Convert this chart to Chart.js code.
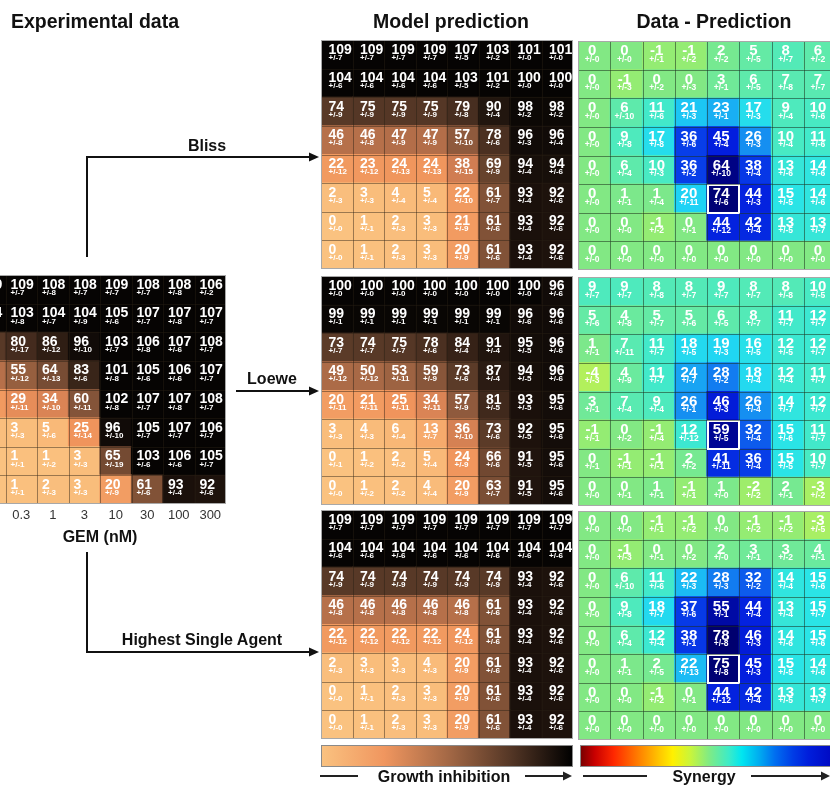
<!DOCTYPE html>
<html>
<head>
<meta charset="utf-8">
<script src="https://cdn.jsdelivr.net/npm/chart.js@4.4.0/dist/chart.umd.min.js"></script>
<style>
  html, body { margin: 0; padding: 0; background: #fff; }
  body { width: 830px; height: 786px; position: relative; overflow: hidden; }
  .panel { position: absolute; }
  #overlay { position: absolute; left: 0; top: 0; pointer-events: none; }
</style>
</head>
<body>
<div class="panel" style="left:-26px;top:275px"><canvas id="expChart" width="252" height="276"></canvas></div>
<div class="panel" style="left:321px;top:40px"><canvas id="blissChart" width="252" height="229"></canvas></div>
<div class="panel" style="left:321px;top:276px"><canvas id="loeweChart" width="252" height="229"></canvas></div>
<div class="panel" style="left:321px;top:510px"><canvas id="hsaChart" width="252" height="229"></canvas></div>
<div class="panel" style="left:578px;top:41px"><canvas id="blissDiffChart" width="258" height="229"></canvas></div>
<div class="panel" style="left:578px;top:277px"><canvas id="loeweDiffChart" width="258" height="229"></canvas></div>
<div class="panel" style="left:578px;top:511px"><canvas id="hsaDiffChart" width="258" height="229"></canvas></div>

<svg id="overlay" width="830" height="786" xmlns="http://www.w3.org/2000/svg" font-family="Liberation Sans, Arial, sans-serif" font-weight="bold">
  <defs>
    <linearGradient id="gGrowth" x1="0" x2="1" y1="0" y2="0">
      <stop offset="0" stop-color="rgb(250,194,128)"/>
      <stop offset="0.25" stop-color="rgb(240,150,95)"/>
      <stop offset="0.5" stop-color="rgb(165,105,70)"/>
      <stop offset="0.75" stop-color="rgb(85,55,38)"/>
      <stop offset="1" stop-color="rgb(0,0,0)"/>
    </linearGradient>
    <linearGradient id="gSyn" x1="0" x2="1" y1="0" y2="0">
      <stop offset="0" stop-color="rgb(120,0,0)"/>
      <stop offset="0.055" stop-color="rgb(200,0,0)"/>
      <stop offset="0.13" stop-color="rgb(255,40,0)"/>
      <stop offset="0.23" stop-color="rgb(255,130,0)"/>
      <stop offset="0.31" stop-color="rgb(255,200,0)"/>
      <stop offset="0.36" stop-color="rgb(255,240,0)"/>
      <stop offset="0.43" stop-color="rgb(200,245,60)"/>
      <stop offset="0.5" stop-color="rgb(130,235,130)"/>
      <stop offset="0.58" stop-color="rgb(60,235,200)"/>
      <stop offset="0.63" stop-color="rgb(0,230,240)"/>
      <stop offset="0.7" stop-color="rgb(0,170,240)"/>
      <stop offset="0.76" stop-color="rgb(0,110,240)"/>
      <stop offset="0.83" stop-color="rgb(0,60,230)"/>
      <stop offset="0.89" stop-color="rgb(0,30,220)"/>
      <stop offset="1" stop-color="rgb(0,5,190)"/>
    </linearGradient>
  </defs>

  <!-- titles -->
  <text x="11" y="28" font-size="19.5" fill="#111">Experimental data</text>
  <text x="451" y="28" font-size="19.5" fill="#111" text-anchor="middle">Model prediction</text>
  <text x="714" y="28" font-size="19.5" fill="#111" text-anchor="middle">Data - Prediction</text>

  <!-- model arrows -->
  <g stroke="#111" stroke-width="2" fill="none">
    <polyline points="87,257 87,157 310,157"/>
    <line x1="236" y1="391" x2="310" y2="391"/>
    <polyline points="87,552 87,652 310,652"/>
  </g>
  <g fill="#111">
    <polygon points="319,157 309,152.5 309,161.5"/>
    <polygon points="319,391 309,386.5 309,395.5"/>
    <polygon points="319,652 309,647.5 309,656.5"/>
  </g>
  <text x="207" y="151" font-size="16" fill="#111" text-anchor="middle">Bliss</text>
  <text x="272" y="384" font-size="16" fill="#111" text-anchor="middle">Loewe</text>
  <text x="202" y="645" font-size="16" fill="#111" text-anchor="middle">Highest Single Agent</text>

  <!-- colour bars -->
  <rect x="321.5" y="745.5" width="251" height="21" fill="url(#gGrowth)" stroke="#8a8a8a" stroke-width="1"/>
  <rect x="580.5" y="745.5" width="256" height="21" fill="url(#gSyn)" stroke="#8a8a8a" stroke-width="1"/>
  <g stroke="#222" stroke-width="2">
    <line x1="320" y1="776" x2="358" y2="776"/>
    <line x1="525" y1="776" x2="564" y2="776"/>
    <line x1="583" y1="776" x2="647" y2="776"/>
    <line x1="751" y1="776" x2="822" y2="776"/>
  </g>
  <g fill="#222">
    <polygon points="572,776 563,771.5 563,780.5"/>
    <polygon points="830,776 821,771.5 821,780.5"/>
  </g>
  <text x="444" y="782" font-size="16" fill="#111" text-anchor="middle">Growth inhibition</text>
  <text x="704" y="782" font-size="16" fill="#111" text-anchor="middle">Synergy</text>
</svg>

<script>
// GEM concentrations (nM), one per column
const gemLabels = ['0', '0.3', '1', '3', '10', '30', '100', '300'];

// rows listed top to bottom
const expVals = [
  [109, 109, 108, 108, 109, 108, 108, 106],
  [104, 103, 104, 104, 105, 107, 107, 107],
  [74, 80, 86, 96, 103, 106, 107, 108],
  [46, 55, 64, 83, 101, 105, 106, 107],
  [22, 29, 34, 60, 102, 107, 107, 108],
  [2, 3, 5, 25, 96, 105, 107, 106],
  [0, 1, 1, 3, 65, 103, 106, 105],
  [0, 1, 2, 3, 20, 61, 93, 92]
];
const expErrs = [
  [7, 7, 8, 7, 7, 7, 8, 2],
  [6, 8, 7, 9, 6, 7, 8, 7],
  [9, 17, 12, 10, 7, 8, 6, 7],
  [8, 12, 13, 6, 8, 6, 6, 7],
  [12, 11, 10, 11, 8, 7, 8, 7],
  [3, 3, 6, 14, 10, 7, 7, 7],
  [0, 1, 2, 3, 19, 6, 6, 7],
  [0, 1, 3, 3, 9, 6, 4, 6]
];

const blissVals = [
  [109, 109, 109, 109, 107, 103, 101, 101],
  [104, 104, 104, 104, 103, 101, 100, 100],
  [74, 75, 75, 75, 79, 90, 98, 98],
  [46, 46, 47, 47, 57, 78, 96, 96],
  [22, 23, 24, 24, 38, 69, 94, 94],
  [2, 3, 4, 5, 22, 61, 93, 92],
  [0, 1, 2, 3, 21, 61, 93, 92],
  [0, 1, 2, 3, 20, 61, 93, 92]
];
const blissErrs = [
  [7, 7, 7, 7, 5, 2, 0, 0],
  [6, 6, 6, 6, 5, 2, 0, 0],
  [9, 9, 9, 9, 8, 4, 2, 2],
  [8, 8, 9, 9, 10, 6, 3, 4],
  [12, 12, 13, 13, 15, 9, 4, 6],
  [3, 3, 4, 4, 10, 7, 4, 6],
  [0, 1, 3, 3, 9, 6, 4, 6],
  [0, 1, 3, 3, 9, 6, 4, 6]
];

const loeweVals = [
  [100, 100, 100, 100, 100, 100, 100, 96],
  [99, 99, 99, 99, 99, 99, 96, 96],
  [73, 74, 75, 78, 84, 91, 95, 96],
  [49, 50, 53, 59, 73, 87, 94, 96],
  [20, 21, 25, 34, 57, 81, 93, 95],
  [3, 4, 6, 13, 36, 73, 92, 95],
  [0, 1, 2, 5, 24, 66, 91, 95],
  [0, 1, 2, 4, 20, 63, 91, 95]
];
const loeweErrs = [
  [0, 0, 0, 0, 0, 0, 0, 6],
  [1, 1, 1, 1, 1, 1, 6, 6],
  [7, 7, 7, 6, 4, 4, 5, 6],
  [12, 12, 11, 9, 6, 4, 5, 6],
  [11, 11, 11, 11, 9, 5, 5, 6],
  [3, 3, 4, 7, 10, 6, 5, 6],
  [1, 2, 2, 4, 9, 6, 5, 6],
  [0, 2, 2, 4, 9, 7, 5, 6]
];

const hsaVals = [
  [109, 109, 109, 109, 109, 109, 109, 109],
  [104, 104, 104, 104, 104, 104, 104, 104],
  [74, 74, 74, 74, 74, 74, 93, 92],
  [46, 46, 46, 46, 46, 61, 93, 92],
  [22, 22, 22, 22, 24, 61, 93, 92],
  [2, 3, 3, 4, 20, 61, 93, 92],
  [0, 1, 2, 3, 20, 61, 93, 92],
  [0, 1, 2, 3, 20, 61, 93, 92]
];
const hsaErrs = [
  [7, 7, 7, 7, 7, 7, 7, 7],
  [6, 6, 6, 6, 6, 6, 6, 6],
  [9, 9, 9, 9, 9, 9, 4, 6],
  [8, 8, 8, 8, 8, 6, 4, 6],
  [12, 12, 12, 12, 12, 6, 4, 6],
  [3, 3, 3, 3, 9, 6, 4, 6],
  [0, 1, 3, 3, 9, 6, 4, 6],
  [0, 1, 3, 3, 9, 6, 4, 6]
];

const blissDiffVals = [
  [0, 0, -1, -1, 2, 5, 8, 6],
  [0, -1, 0, 0, 3, 6, 7, 7],
  [0, 6, 11, 21, 23, 17, 9, 10],
  [0, 9, 17, 36, 45, 26, 10, 11],
  [0, 6, 10, 36, 64, 38, 13, 14],
  [0, 1, 1, 20, 74, 44, 15, 14],
  [0, 0, -1, 0, 44, 42, 13, 13],
  [0, 0, 0, 0, 0, 0, 0, 0]
];
const blissDiffErrs = [
  [0, 0, 1, 2, 2, 5, 7, 2],
  [0, 3, 2, 3, 1, 5, 8, 7],
  [0, 10, 6, 3, 1, 3, 4, 6],
  [0, 8, 8, 6, 4, 3, 4, 6],
  [0, 4, 3, 2, 10, 4, 6, 6],
  [0, 1, 4, 11, 6, 3, 5, 6],
  [0, 0, 2, 1, 12, 4, 5, 7],
  [0, 0, 0, 0, 0, 0, 0, 0]
];

const loeweDiffVals = [
  [9, 9, 8, 8, 9, 8, 8, 10],
  [5, 4, 5, 5, 6, 8, 11, 12],
  [1, 7, 11, 18, 19, 16, 12, 12],
  [-4, 4, 11, 24, 28, 18, 12, 11],
  [3, 7, 9, 26, 46, 26, 14, 12],
  [-1, 0, -1, 12, 59, 32, 15, 11],
  [0, -1, -1, 2, 41, 36, 15, 10],
  [0, 0, 1, -1, 1, -2, 2, -3]
];
const loeweDiffErrs = [
  [7, 7, 8, 7, 7, 7, 8, 5],
  [6, 8, 7, 6, 5, 7, 7, 7],
  [1, 11, 7, 5, 3, 5, 5, 7],
  [3, 9, 7, 7, 2, 4, 4, 7],
  [1, 4, 4, 1, 3, 4, 7, 7],
  [1, 2, 4, 12, 5, 4, 6, 7],
  [1, 1, 1, 2, 11, 4, 5, 7],
  [0, 1, 1, 1, 0, 2, 1, 2]
];

const hsaDiffVals = [
  [0, 0, -1, -1, 0, -1, -1, -3],
  [0, -1, 0, 0, 2, 3, 3, 4],
  [0, 6, 11, 22, 28, 32, 14, 15],
  [0, 9, 18, 37, 55, 44, 13, 15],
  [0, 6, 12, 38, 78, 46, 14, 15],
  [0, 1, 2, 22, 75, 45, 15, 14],
  [0, 0, -1, 0, 44, 42, 13, 13],
  [0, 0, 0, 0, 0, 0, 0, 0]
];
const hsaDiffErrs = [
  [0, 0, 1, 2, 0, 2, 2, 5],
  [0, 3, 1, 2, 0, 1, 2, 1],
  [0, 10, 6, 3, 3, 2, 4, 6],
  [0, 8, 7, 6, 1, 4, 4, 7],
  [0, 4, 4, 1, 8, 3, 6, 6],
  [0, 1, 5, 13, 8, 3, 5, 6],
  [0, 0, 2, 1, 12, 4, 5, 7],
  [0, 0, 0, 0, 0, 0, 0, 0]
];

// cell picked out with a white frame in the difference maps: [row, col]
const markedCell = [5, 4];

const FONT = '"Liberation Sans", Arial, sans-serif';
Chart.defaults.font.family = FONT;

// colour maps
const growthStops = [
  [0, [250, 194, 128]], [10, [247, 176, 112]], [25, [240, 148, 92]], [40, [203, 122, 80]],
  [50, [168, 105, 70]], [62, [125, 80, 54]], [75, [85, 55, 38]], [88, [40, 25, 17]], [100, [6, 4, 3]]
];
const synergyStops = [
  [-20, [255, 235, 0]], [-4, [178, 240, 92]], [-1, [148, 236, 115]], [0, [130, 232, 132]],
  [5, [100, 234, 165]], [10, [72, 234, 195]], [15, [42, 228, 230]], [20, [30, 210, 245]],
  [25, [22, 152, 242]], [30, [15, 105, 238]], [36, [8, 62, 232]], [45, [3, 30, 222]],
  [55, [0, 10, 165]], [62, [0, 2, 135]], [80, [0, 0, 108]]
];

function colorFrom(stops) {
  return function (v) {
    if (v <= stops[0][0]) return 'rgb(' + stops[0][1].join(',') + ')';
    for (let i = 1; i < stops.length; i++) {
      if (v <= stops[i][0]) {
        const a = stops[i - 1], b = stops[i];
        const t = (v - a[0]) / (b[0] - a[0]);
        const c = a[1].map((x, k) => Math.round(x + (b[1][k] - x) * t));
        return 'rgb(' + c.join(',') + ')';
      }
    }
    return 'rgb(' + stops[stops.length - 1][1].join(',') + ')';
  };
}
const growthColor = colorFrom(growthStops);
const synergyColor = colorFrom(synergyStops);

// draws grid lines, frame, labels on top of the bars
function cellLabels(cfg) {
  return {
    id: 'cellLabels',
    afterDatasetsDraw(chart) {
      const ctx = chart.ctx;
      const area = chart.chartArea;
      ctx.save();
      chart.data.datasets.forEach((ds, d) => {
        const meta = chart.getDatasetMeta(d);
        meta.data.forEach((bar, i) => {
          const left = bar.x - bar.width / 2;
          const top = Math.min(bar.y, bar.base);
          const w = bar.width;
          const h = Math.abs(bar.base - bar.y);
          ctx.strokeStyle = cfg.gridColor;
          ctx.lineWidth = 1;
          ctx.beginPath();
          if (i < meta.data.length - 1) {
            const gx = Math.round(left + w) + 0.5;
            ctx.moveTo(gx, top); ctx.lineTo(gx, top + h);
          }
          if (d > 0) {
            const gy = Math.round(top + h) + 0.5;
            ctx.moveTo(left, gy); ctx.lineTo(left + w, gy);
          }
          ctx.stroke();

          const tx = cfg.align === 'left' ? left + cfg.textX : left + w / 2 + cfg.textX;
          ctx.textAlign = cfg.align;
          ctx.textBaseline = 'alphabetic';
          ctx.fillStyle = '#fff';
          ctx.font = 'bold ' + cfg.valSize + 'px ' + FONT;
          ctx.fillText(String(ds.rowVals[i]), tx, top + cfg.valY);
          ctx.font = 'bold ' + cfg.errSize + 'px ' + FONT;
          ctx.fillText('+/-' + ds.rowErrs[i], tx, top + cfg.errY);

          if (cfg.mark && ds.rowIndex === cfg.mark[0] && i === cfg.mark[1]) {
            ctx.strokeStyle = '#fff';
            ctx.lineWidth = 2;
            ctx.strokeRect(Math.round(left) + 1, Math.round(top) + 1, Math.round(w) - 1, Math.round(h) - 1);
          }
        });
      });
      ctx.strokeStyle = '#a8a8a8';
      ctx.lineWidth = 1;
      ctx.strokeRect(area.left + 0.5, area.top + 0.5, area.right - area.left - 1, area.bottom - area.top - 1);
      ctx.restore();
    }
  };
}

function makeHeatmap(id, vals, errs, colorOf, cfg) {
  const datasets = [];
  // stacked from the bottom row upwards
  for (let r = vals.length - 1; r >= 0; r--) {
    datasets.push({
      data: vals[r].map(() => 1),
      rowVals: vals[r],
      rowErrs: errs[r],
      rowIndex: r,
      backgroundColor: vals[r].map(colorOf),
      borderWidth: 0,
      barPercentage: 1,
      categoryPercentage: 1,
      inflateAmount: 0.6
    });
  }
  const xScale = cfg.showAxis ? {
    stacked: true,
    grid: { display: false, drawTicks: false },
    border: { display: false },
    ticks: { color: '#333', font: { size: 13 }, padding: 4, maxRotation: 0, autoSkip: false },
    title: { display: true, text: 'GEM (nM)', color: '#111', font: { size: 16, weight: 'bold' }, padding: { top: 2, bottom: 4 } },
    afterFit(scale) { scale.height = 47; }
  } : { stacked: true, display: false };

  return new Chart(document.getElementById(id), {
    type: 'bar',
    data: { labels: gemLabels, datasets: datasets },
    options: {
      responsive: false,
      animation: false,
      events: [],
      layout: { padding: 0 },
      plugins: { legend: { display: false }, tooltip: { enabled: false } },
      scales: {
        x: xScale,
        y: { stacked: true, display: false, min: 0, max: vals.length }
      }
    },
    plugins: [cellLabels(cfg)]
  });
}

const growthCfg = { align: 'left', textX: 7.5, valSize: 14, errSize: 8, valY: 13.5, errY: 19.5, gridColor: 'rgba(40,30,20,0.45)' };
const synergyCfg = { align: 'center', textX: -2, valSize: 15, errSize: 8.5, valY: 14, errY: 20.5, gridColor: 'rgba(30,50,30,0.55)', mark: markedCell };

makeHeatmap('expChart', expVals, expErrs, growthColor, Object.assign({}, growthCfg, { textX: 5, errY: 20, showAxis: true }));
makeHeatmap('blissChart', blissVals, blissErrs, growthColor, growthCfg);
makeHeatmap('loeweChart', loeweVals, loeweErrs, growthColor, growthCfg);
makeHeatmap('hsaChart', hsaVals, hsaErrs, growthColor, growthCfg);
makeHeatmap('blissDiffChart', blissDiffVals, blissDiffErrs, synergyColor, synergyCfg);
makeHeatmap('loeweDiffChart', loeweDiffVals, loeweDiffErrs, synergyColor, synergyCfg);
makeHeatmap('hsaDiffChart', hsaDiffVals, hsaDiffErrs, synergyColor, synergyCfg);
</script>
</body>
</html>
